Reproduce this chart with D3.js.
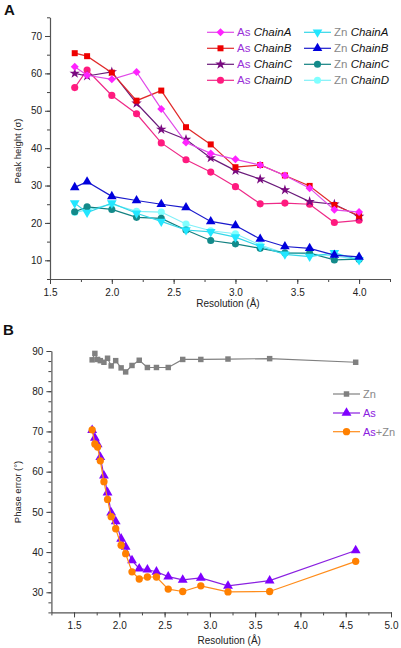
<!DOCTYPE html>
<html><head><meta charset="utf-8">
<script src="https://cdn.jsdelivr.net/npm/d3@7"></script>
<style>body{margin:0;background:#fff}svg{display:block;font-family:"Liberation Sans",Arial,sans-serif}</style>
</head><body><svg id="c" width="401" height="648"></svg>
<script>
// ---- Panel A data ----
const resA = [1.7,1.8,2.0,2.2,2.4,2.6,2.8,3.0,3.2,3.4,3.6,3.8,4.0];
const asChainA = [61.8,59.5,58.4,60.4,50.5,41.5,38.6,37.0,35.5,32.7,29.3,23.5,22.9];
const asChainB = [65.4,64.6,60.2,52.7,55.4,45.6,41.0,34.9,35.5,32.7,29.9,24.8,21.9];
const asChainC = [60.0,59.3,60.4,52.0,45.0,42.3,37.4,34.0,31.7,28.8,25.7,25.0,21.7];
const asChainD = [56.2,60.9,54.1,49.2,41.4,36.9,33.6,29.7,25.1,25.3,25.0,20.1,20.7];
const znChainA = [25.3,22.8,25.3,22.6,20.4,18.1,17.6,16.2,13.7,11.6,11.0,12.0,10.1];
const znChainB = [29.5,31.0,27.1,26.0,25.0,24.1,20.4,19.3,15.7,13.7,13.2,11.4,10.9];
const znChainC = [23.0,24.3,23.6,21.5,21.2,18.1,15.3,14.4,13.2,12.0,11.9,10.1,10.3];
const znChainD = [22.8,23.5,25.0,23.1,22.9,19.7,17.9,17.1,14.1,11.9,11.7,11.2,10.2];
const xTicksA = [1.5,2.0,2.5,3.0,3.5,4.0];
const yTicksA = [10,20,30,40,50,60,70];

// ---- Panel B data ----
const resB = [1.70,1.73,1.76,1.79,1.83,1.87,1.91,1.96,2.02,2.07,2.14,2.22,2.31,2.41,2.54,2.70,2.90,3.20,3.66,4.61];
const phZn   = [87.8,89.4,87.9,87.6,87.2,88.2,86.3,87.6,85.8,84.8,86.4,87.7,85.9,85.9,85.9,87.9,87.9,88.0,88.1,87.2];
const phAs   = [70.3,68.4,66.8,63.6,59.0,54.8,49.8,47.6,43.3,41.3,37.9,35.9,35.6,35.1,33.9,33.1,33.6,31.6,32.9,40.4];
const phAsZn = [70.4,66.9,66.1,62.7,57.5,53.1,48.8,45.8,41.7,39.6,35.1,33.3,33.8,33.8,30.8,30.2,31.6,30.1,30.2,37.7];
const xTicksB = [1.5,2.0,2.5,3.0,3.5,4.0,4.5,5.0];
const yTicksB = [30,40,50,60,70,80,90];

const svg = d3.select("#c");
const fmt1 = d3.format(".1f");

function drawAxes(x, y, xTicks, yTicks, xMinor, yMinor, xTitle, yTitle, yTitleY, xTitleY) {
  const [x0, x1] = x.range(), [y0, y1] = y.range();
  const g = svg.append("g");
  g.append("g").attr("transform", `translate(0,${y0})`)
    .call(d3.axisBottom(x).tickValues(xMinor).tickSize(3).tickFormat(""))
    .call(s => s.select(".domain").remove());
  g.append("g").attr("transform", `translate(${x0},0)`)
    .call(d3.axisLeft(y).tickValues(yMinor).tickSize(3).tickFormat(""))
    .call(s => s.select(".domain").remove());
  const gx = g.append("g").attr("transform", `translate(0,${y0})`)
    .call(d3.axisBottom(x).tickValues(xTicks).tickSize(5).tickSizeOuter(0).tickFormat(fmt1));
  g.append("g").attr("transform", `translate(${x0},0)`)
    .call(d3.axisLeft(y).tickValues(yTicks).tickSize(5).tickSizeOuter(0).tickFormat(d3.format("d")));
  g.selectAll(".tick line").attr("stroke", "#444");
  g.selectAll(".domain").attr("stroke", "#555").attr("stroke-width", 1.2);
  g.selectAll(".tick text").attr("font-size", 10).attr("fill", "#222")
    .attr("font-family", '"Liberation Sans",Arial,sans-serif');
  gx.selectAll(".tick text").attr("dy", "0.9em");
  g.append("text").attr("x", (x0 + x1) / 2 + 8).attr("y", xTitleY).attr("text-anchor", "middle")
    .attr("font-size", 10).attr("fill", "#222").text(xTitle);
  g.append("text").attr("transform", `translate(21,${yTitleY}) rotate(-90)`).attr("text-anchor", "middle")
    .attr("font-size", 9.5).attr("fill", "#222").text(yTitle);
}

function drawSeries(x, y, xs, ys, lineColor, fill, symType, size, rotate) {
  const pts = xs.map((d, i) => [d, ys[i]]);
  svg.append("path").datum(pts)
    .attr("d", d3.line().x(d => x(d[0])).y(d => y(d[1])))
    .attr("fill", "none").attr("stroke", lineColor).attr("stroke-width", 1.2);
  const sym = d3.symbol().type(symType).size(size);
  svg.append("g").selectAll("path").data(pts).join("path")
    .attr("d", sym)
    .attr("transform", d => `translate(${x(d[0])},${y(d[1])}) rotate(${rotate || 0})`)
    .attr("fill", fill);
}

function legendItem(lx, ly, lineColor, fill, symType, size, rotate, parts, fs) {
  svg.append("line").attr("x1", lx).attr("x2", lx + 27).attr("y1", ly).attr("y2", ly)
    .attr("stroke", lineColor).attr("stroke-width", 1.2);
  svg.append("path").attr("d", d3.symbol().type(symType).size(size)())
    .attr("transform", `translate(${lx + 13.5},${ly}) rotate(${rotate || 0})`).attr("fill", fill);
  const t = svg.append("text").attr("x", lx + 30).attr("y", ly + 4).attr("font-size", fs);
  parts.forEach(p => t.append("tspan").attr("fill", p[1]).attr("font-style", p[2] || "normal").text(p[0]));
}

// ---------- Panel A ----------
const xA = d3.scaleLinear().domain([1.5, 4.25]).range([50, 390]);
const yA = d3.scaleLinear().domain([5, 75]).range([279, 17.3]);
drawAxes(xA, yA, xTicksA, yTicksA, d3.range(1.75, 4.3, 0.25), d3.range(5, 76, 5),
  "Resolution (Å)", "Peak height (σ)", 151, 307);

const seriesA = [
  [znChainD, "#7ff0f8", "#80ffff", d3.symbolCircle, 40, 0],
  [znChainC, "#118080", "#138a8a", d3.symbolCircle, 40, 0],
  [znChainA, "#33d6e8", "#22e6ff", d3.symbolTriangle, 40, 180],
  [znChainB, "#1a1acc", "#0000dd", d3.symbolTriangle, 40, 0],
  [asChainD, "#ee2a88", "#ff1a7f", d3.symbolCircle, 40, 0],
  [asChainC, "#6a1a7a", "#7a0a80", d3.symbolStar, 34, 0],
  [asChainB, "#e02a2a", "#ee0000", d3.symbolSquare, 36, 0],
  [asChainA, "#e04ae8", "#ff22ff", d3.symbolSquare, 32, 45]
];
seriesA.forEach(s => drawSeries(xA, yA, resA, s[0], s[1], s[2], s[3], s[4], s[5]));

const asCol = "#9a30d8", znCol = "#888";
svg.append("text").attr("x", 4).attr("y", 15).attr("font-size", 15).attr("font-weight", "bold").attr("fill", "#111").text("A");
const legA = [
  [207, 32.3, "#e04ae8", "#ff22ff", d3.symbolSquare, 32, 45, "As", asCol, "ChainA"],
  [207, 48.3, "#e02a2a", "#ee0000", d3.symbolSquare, 36, 0, "As", asCol, "ChainB"],
  [207, 64.3, "#6a1a7a", "#7a0a80", d3.symbolStar, 34, 0, "As", asCol, "ChainC"],
  [207, 80.3, "#ee2a88", "#ff1a7f", d3.symbolCircle, 40, 0, "As", asCol, "ChainD"],
  [304, 32.3, "#33d6e8", "#22e6ff", d3.symbolTriangle, 40, 180, "Zn", znCol, "ChainA"],
  [304, 48.3, "#1a1acc", "#0000dd", d3.symbolTriangle, 40, 0, "Zn", znCol, "ChainB"],
  [304, 64.3, "#118080", "#138a8a", d3.symbolCircle, 40, 0, "Zn", znCol, "ChainC"],
  [304, 80.3, "#7ff0f8", "#80ffff", d3.symbolCircle, 40, 0, "Zn", znCol, "ChainD"]
];
legA.forEach(l => legendItem(l[0], l[1], l[2], l[3], l[4], l[5], l[6],
  [[l[7] + " ", l[8]], [l[9], "#111", "italic"]], 11.5));

// ---------- Panel B ----------
const xB = d3.scaleLinear().domain([1.25, 5.0]).range([51.4, 391]);
const yB = d3.scaleLinear().domain([25, 90]).range([612.4, 351]);
drawAxes(xB, yB, xTicksB, yTicksB, d3.range(1.25, 5.01, 0.25), d3.range(25, 90.1, 2.5),
  "Resolution (Å)", "Phase error (°)", 492, 644);

drawSeries(xB, yB, resB, phZn, "#808080", "#808080", d3.symbolSquare, 30, 0);
drawSeries(xB, yB, resB, phAs, "#8a20e0", "#7f00ff", d3.symbolTriangle, 42, 0);
drawSeries(xB, yB, resB, phAsZn, "#ff8c1a", "#ff8000", d3.symbolCircle, 42, 0);

svg.append("text").attr("x", 3).attr("y", 335).attr("font-size", 15).attr("font-weight", "bold").attr("fill", "#111").text("B");
legendItem(333, 394, "#808080", "#808080", d3.symbolSquare, 30, 0, [["Zn", znCol]], 11);
legendItem(333, 413, "#8a20e0", "#7f00ff", d3.symbolTriangle, 42, 0, [["As", "#8a20e0"]], 11);
legendItem(333, 431.7, "#ff8c1a", "#ff8000", d3.symbolCircle, 42, 0, [["As", "#8a20e0"], ["+Zn", znCol]], 11);
</script></body></html>
